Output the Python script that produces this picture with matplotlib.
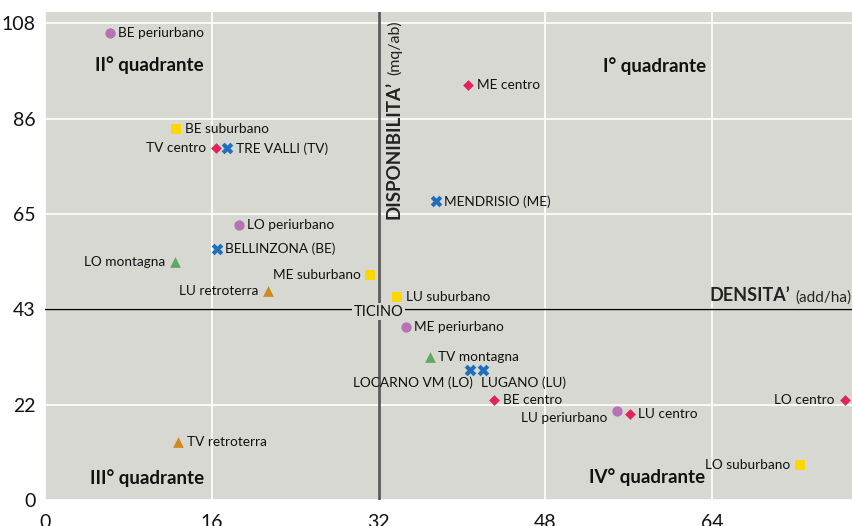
import matplotlib.pyplot as plt

plt.rcParams['font.family'] = ['Lato', 'DejaVu Sans']

# data: density (add/ha) vs availability (mq/ab)
names = ["BE periurbano", "BE suburbano", "TV centro", "TRE VALLI (TV)", "ME centro",
         "MENDRISIO (ME)", "LO periurbano", "BELLINZONA (BE)", "LO montagna",
         "ME suburbano", "LU retroterra", "LU suburbano", "ME periurbano", "TV montagna",
         "LOCARNO VM (LO)", "LUGANO (LU)", "BE centro", "LU periurbano", "LU centro",
         "LO centro", "LO suburbano", "TV retroterra"]
density = [6.2, 12.6, 16.4, 17.5, 40.6, 37.5, 18.6, 16.5, 12.5, 31.2, 21.4, 33.8,
           34.6, 36.9, 40.8, 42.0, 43.1, 54.9, 56.1, 76.7, 72.4, 12.8]
availability = [105.8, 84.0, 79.7, 79.7, 94.0, 67.7, 62.3, 56.9, 53.9, 51.0, 47.3, 46.0,
                39.2, 32.4, 29.5, 29.5, 22.7, 20.2, 19.5, 22.7, 7.9, 13.1]
kind = ["periurbano", "suburbano", "centro", "comune", "centro", "comune", "periurbano",
        "comune", "montagna", "suburbano", "retroterra", "suburbano", "periurbano",
        "montagna", "comune", "comune", "centro", "periurbano", "centro", "centro",
        "suburbano", "retroterra"]

ticino_x = 32
ticino_y = 43.2

styles = {
    "centro": dict(marker="D", color="#e0245e", s=30),
    "suburbano": dict(marker="s", color="#ffd700", s=50),
    "periurbano": dict(marker="o", color="#b673b3", s=55),
    "montagna": dict(marker="^", color="#5ea95c", s=60),
    "retroterra": dict(marker="^", color="#cf8a1e", s=60),
    "comune": dict(marker="X", color="#1f6fbd", s=70),
}

# where each label goes relative to its marker
left_labels = {"TV centro", "LO montagna", "ME suburbano", "LU retroterra",
               "LU periurbano", "LO centro", "LO suburbano"}
special = {"LOCARNO VM (LO)": (1.5, -9, "right"), "LUGANO (LU)": (-1, -9, "left"),
           "LU periurbano": (-7, -5, "right")}

fig = plt.figure(figsize=(8.53, 5.26), dpi=100)
ax = fig.add_axes([45 / 853, 26 / 526, 808 / 853, 488 / 526])
ax.set_facecolor("#d8d8d3")
ax.set_xlim(0, 77.5)
ax.set_ylim(0, 110.6)

yt = [0, 21.6, 43.2, 64.8, 86.4, 108]
ax.set_yticks(yt)
ax.set_yticklabels([str(round(v)) for v in yt])
ax.set_xticks([0, 16, 32, 48, 64])
ax.tick_params(length=0, labelsize=14, colors="#111111")
ax.tick_params(axis="x", pad=10)
ax.tick_params(axis="y", pad=7)
for sp in ax.spines.values():
    sp.set_visible(False)
ax.grid(True, color="white", linewidth=1.2)
ax.set_axisbelow(True)

ax.axhline(ticino_y, color="black", linewidth=1.0, zorder=2)
ax.axvline(ticino_x, color="#5a5a5a", linewidth=2.0, zorder=2)
ax.text(ticino_x, ticino_y - 0.5, "TICINO", ha="center", va="center", fontsize=10.5,
        color="#111111", zorder=3,
        bbox=dict(facecolor="#d8d8d3", edgecolor="none", pad=1.0))

for n, x, y, k in zip(names, density, availability, kind):
    ax.scatter(x, y, zorder=4, linewidths=0, clip_on=False, **styles[k])
    if n in special:
        dx, dy, ha = special[n]
    elif n in left_labels:
        dx, dy, ha = -7, 0, "right"
    else:
        dx, dy, ha = 6, 0, "left"
    ax.annotate(n, (x, y), xytext=(dx, dy), textcoords="offset points",
                ha=ha, va="center", fontsize=9.8, color="#111111", zorder=5)

q = dict(fontsize=13.5, fontweight="bold", ha="center", va="center", color="#111111")
ax.text(10.0, 98.5, "II° quadrante", **q)
ax.text(58.5, 98.3, "I° quadrante", **q)
ax.text(9.8, 5.0, "III° quadrante", **q)
ax.text(57.7, 5.2, "IV° quadrante", **q)

ax.text(71.5, 45.0, "DENSITA’", fontsize=13, fontweight="bold", ha="right",
        va="baseline", color="#222222")
ax.text(77.4, 45.0, "(add/ha)", fontsize=11, ha="right", va="baseline", color="#222222")
ax.text(33.5, 95.0, "DISPONIBILITA’", fontsize=13.5, fontweight="bold", rotation=90,
        ha="center", va="top", color="#222222")
ax.text(33.5, 108.8, "(mq/ab)", fontsize=11.5, rotation=90, ha="center", va="top",
        color="#222222")

fig.savefig("out.png", dpi=100)
